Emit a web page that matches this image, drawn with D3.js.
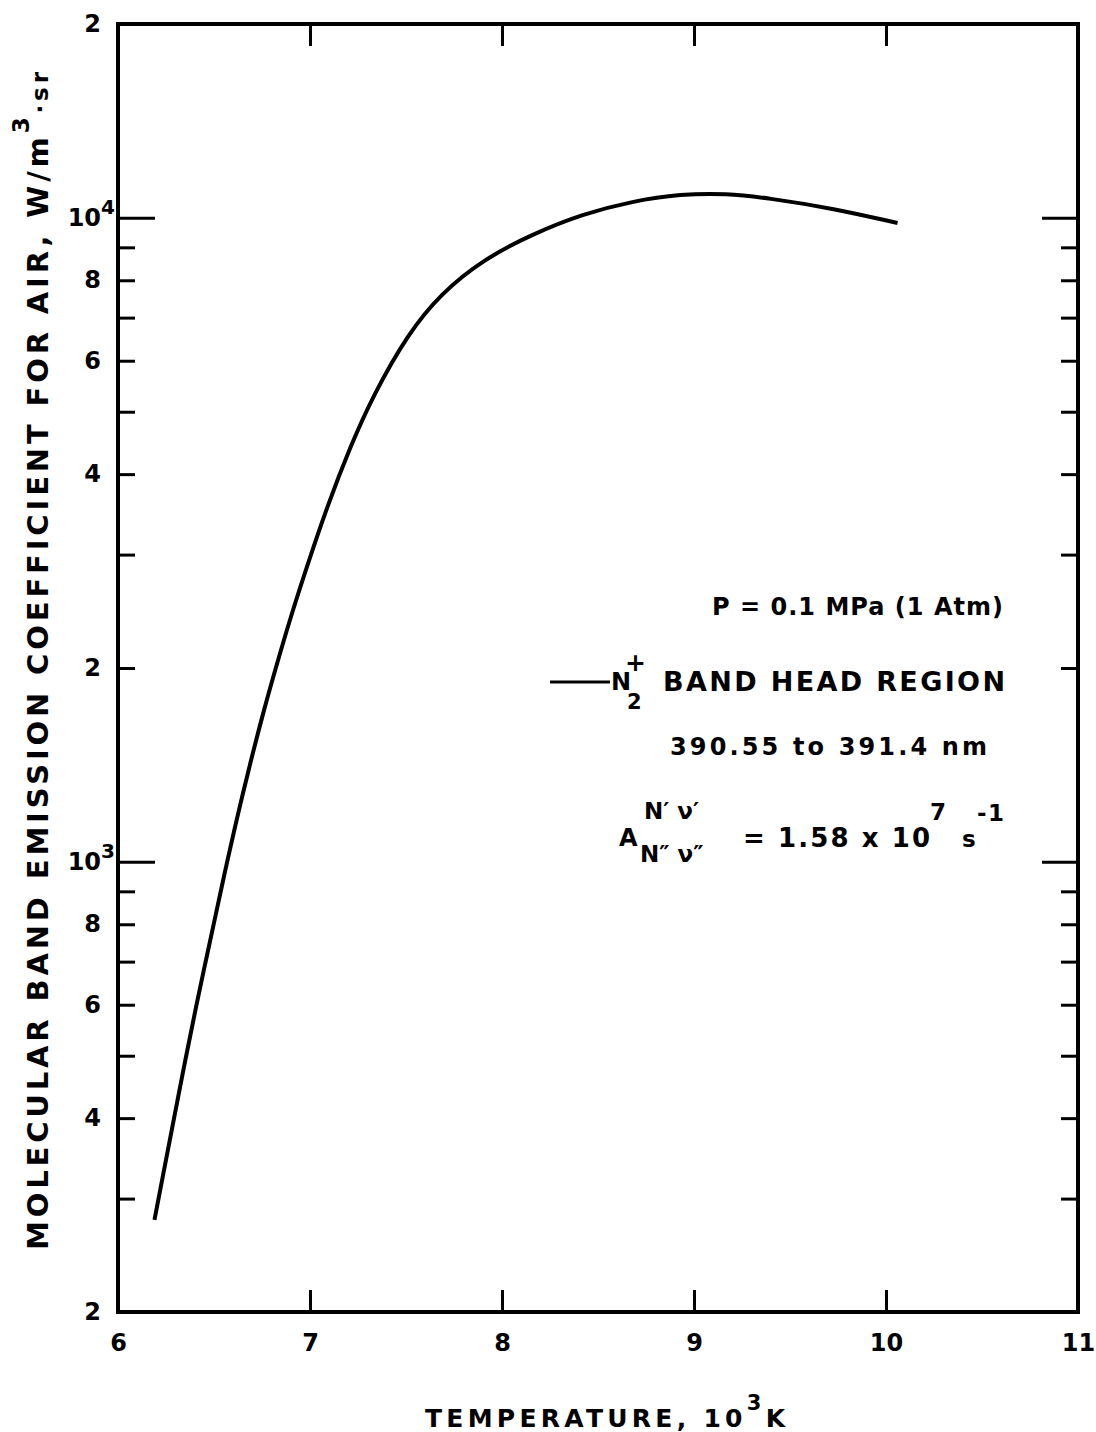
<!DOCTYPE html>
<html>
<head>
<meta charset="utf-8">
<script src="https://cdn.jsdelivr.net/npm/d3@7"></script>
<style>
  body { margin: 0; background: #fff; }
  svg { display: block; font-family: "DejaVu Sans", sans-serif; font-weight: bold; }
</style>
</head>
<body>
<div id="chart"></div>
<script>
// temperature, 10^3 K
const temps = [6.19, 6.23, 6.28, 6.34, 6.41, 6.46, 6.52, 6.57, 6.63, 6.69, 6.76, 6.83, 6.91, 7.00, 7.09,
  7.21, 7.33, 7.51, 7.68, 7.90, 8.16, 8.42, 8.68, 8.93, 9.17, 9.38, 9.72, 10.06]
// emission coefficient, W/m^3 sr
const emission = [278, 321, 383, 475, 603, 708, 857, 1007, 1205, 1429, 1722, 2042, 2460, 2972, 3565,
  4416, 5309, 6607, 7621, 8610, 9441, 10139, 10617, 10889, 10914, 10740, 10351, 9817]

const xTicks = [6, 7, 8, 9, 10, 11]
const yTicks = [200, 300, 400, 500, 600, 700, 800, 900, 1000,
  2000, 3000, 4000, 5000, 6000, 7000, 8000, 9000, 10000, 20000]
const yDecades = [1000, 10000]
const yLabels = { 200: "2", 400: "4", 600: "6", 800: "8", 1000: "10", 2000: "2", 4000: "4",
  6000: "6", 8000: "8", 10000: "10", 20000: "2" }
const decadeExp = { 1000: "3", 10000: "4" }

const width = 1096, height = 1432

const x = d3.scaleLinear().domain([6, 11]).range([118, 1078])
const y = d3.scaleLog().domain([200, 20000]).range([1312, 24])

const svg = d3.select("#chart").append("svg")
  .attr("width", width)
  .attr("height", height)

// bottom axis with labels
const gx = svg.append("g")
  .attr("transform", "translate(0," + y(200) + ")")
  .call(d3.axisBottom(x).tickValues(xTicks).tickSize(-22).tickPadding(22).tickFormat(d3.format("d")))
gx.select(".domain").remove()

// top axis, ticks only
const gxTop = svg.append("g")
  .attr("transform", "translate(0," + y(20000) + ")")
  .call(d3.axisTop(x).tickValues(xTicks.slice(1, -1)).tickSize(-22).tickFormat(""))
gxTop.select(".domain").remove()

// left axis
const gy = svg.append("g")
  .attr("transform", "translate(" + x(6) + ",0)")
  .call(d3.axisLeft(y).tickValues(yTicks).tickSize(-17).tickPadding(17)
    .tickFormat(d => yLabels[d] || ""))
gy.select(".domain").remove()
gy.selectAll(".tick line").filter(d => yDecades.includes(d)).attr("x2", 37)
gy.selectAll(".tick text").filter(d => yDecades.includes(d))
  .attr("x", -3)
  .append("tspan")
  .attr("dy", "-0.6em")
  .attr("font-size", 20)
  .text(d => decadeExp[d])

// right axis, ticks only
const gyR = svg.append("g")
  .attr("transform", "translate(" + x(11) + ",0)")
  .call(d3.axisRight(y).tickValues(yTicks).tickSize(-17).tickFormat(""))
gyR.select(".domain").remove()
gyR.selectAll(".tick line").filter(d => yDecades.includes(d)).attr("x2", -36)

svg.selectAll(".tick line").attr("stroke", "#000").attr("stroke-width", 3)
svg.selectAll(".tick text").attr("fill", "#000").attr("font-size", 24)
  .attr("font-family", "DejaVu Sans").attr("font-weight", "bold")

// frame
svg.append("rect")
  .attr("x", x(6))
  .attr("y", y(20000))
  .attr("width", x(11) - x(6))
  .attr("height", y(200) - y(20000))
  .attr("fill", "none")
  .attr("stroke", "#000")
  .attr("stroke-width", 4)

// curve
const line = d3.line()
  .x((d, i) => x(temps[i]))
  .y(d => y(d))
  .curve(d3.curveBasis)

svg.append("path")
  .datum(emission)
  .attr("d", line)
  .attr("fill", "none")
  .attr("stroke", "#000")
  .attr("stroke-width", 4)

// axis titles
const xt = svg.append("text")
  .attr("x", 425).attr("y", 1427)
  .attr("font-size", 25)
  .attr("textLength", 360)
  .attr("lengthAdjust", "spacing")
xt.append("tspan").text("TEMPERATURE, 10")
xt.append("tspan").attr("dy", -17).attr("font-size", 21).text("3")
xt.append("tspan").attr("dy", 17).text("K")

const yt = svg.append("text")
  .attr("transform", "translate(48,1250) rotate(-90)")
  .attr("font-size", 29)
  .attr("textLength", 1178)
  .attr("lengthAdjust", "spacing")
yt.append("tspan").text("MOLECULAR BAND EMISSION COEFFICIENT FOR AIR, W/m")
yt.append("tspan").attr("dy", -19).attr("font-size", 23).text("3")
yt.append("tspan").attr("dy", 19).attr("font-size", 23).text("·sr")

// annotations
svg.append("text")
  .attr("x", 712).attr("y", 615)
  .attr("font-size", 24)
  .attr("textLength", 291)
  .attr("lengthAdjust", "spacing")
  .text("P = 0.1 MPa (1 Atm)")

svg.append("line")
  .attr("x1", 550).attr("x2", 610)
  .attr("y1", 682).attr("y2", 682)
  .attr("stroke", "#000")
  .attr("stroke-width", 3)

svg.append("text").attr("x", 611).attr("y", 690).attr("font-size", 24).text("N")
svg.append("text").attr("x", 625).attr("y", 671).attr("font-size", 25).text("+")
svg.append("text").attr("x", 627).attr("y", 709).attr("font-size", 21).text("2")

svg.append("text")
  .attr("x", 663).attr("y", 691)
  .attr("font-size", 27)
  .attr("textLength", 342)
  .attr("lengthAdjust", "spacing")
  .text("BAND HEAD REGION")

svg.append("text")
  .attr("x", 670).attr("y", 755)
  .attr("font-size", 24)
  .attr("textLength", 317)
  .attr("lengthAdjust", "spacing")
  .text("390.55 to 391.4 nm")

svg.append("text").attr("x", 619).attr("y", 846).attr("font-size", 24).text("A")
svg.append("text").attr("x", 644).attr("y", 819).attr("font-size", 23).text("N′ ν′")
svg.append("text").attr("x", 640).attr("y", 862).attr("font-size", 23).text("N″ ν″")
svg.append("text")
  .attr("x", 743).attr("y", 847)
  .attr("font-size", 26)
  .attr("textLength", 187)
  .attr("lengthAdjust", "spacing")
  .text("= 1.58 x 10")
svg.append("text").attr("x", 930).attr("y", 820).attr("font-size", 23).text("7")
svg.append("text").attr("x", 962).attr("y", 847).attr("font-size", 23).text("s")
svg.append("text").attr("x", 977).attr("y", 821).attr("font-size", 23)
  .attr("textLength", 27).attr("lengthAdjust", "spacing").text("-1")
</script>
</body>
</html>
